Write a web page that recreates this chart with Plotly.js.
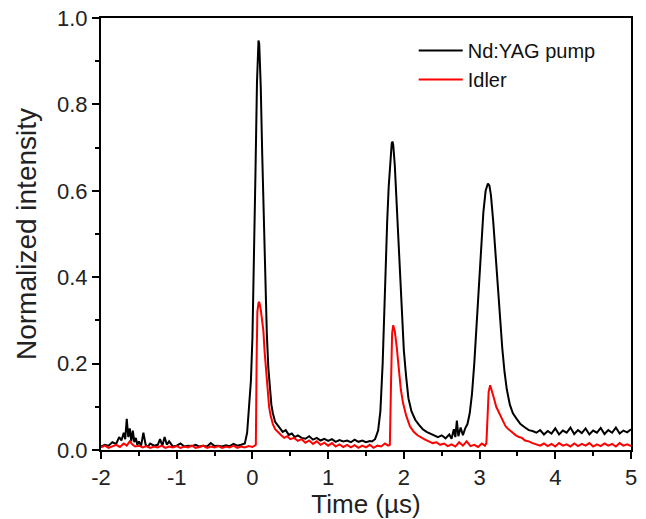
<!DOCTYPE html>
<html>
<head>
<meta charset="utf-8">
<script src="https://cdn.plot.ly/plotly-3.0.1.min.js"></script>
<style>html,body{margin:0;padding:0;background:#fff;}#chart{width:646px;height:519px;}</style>
</head>
<body>
<div id="chart"></div>
<script>
// Nd:YAG pump (black) — time in µs, normalized intensity
const pumpT = [
-2.00,-1.95,-1.90,-1.85,-1.80,-1.76,-1.73,-1.70,-1.68,-1.66,-1.64,-1.62,-1.60,-1.58,-1.56,-1.54,-1.52,-1.50,-1.47,-1.44,-1.41,-1.38,-1.35,-1.30,-1.25,-1.22,-1.19,-1.16,-1.13,-1.10,-1.05,-1.00,-0.95,-0.90,-0.85,-0.80,-0.75,-0.70,-0.65,-0.60,-0.55,-0.50,-0.45,-0.40,-0.35,-0.30,-0.25,-0.20,-0.15,
-0.10,-0.07,-0.05,-0.02,0.00,0.02,0.04,0.06,0.08,0.09,0.11,0.13,0.15,0.17,0.19,0.21,0.23,0.25,0.27,0.30,0.33,0.36,0.40,0.44,0.48,0.52,0.56,0.60,0.65,0.70,0.75,0.80,0.85,0.90,0.95,1.00,1.05,1.10,1.15,1.20,1.25,1.30,1.35,1.40,1.45,1.50,1.55,1.58,
1.62,1.66,1.69,1.72,1.74,1.76,1.78,1.80,1.82,1.84,1.85,1.86,1.88,1.90,1.92,1.94,1.96,1.98,2.00,2.03,2.06,2.10,2.15,2.20,2.25,2.30,2.35,2.40,2.45,2.50,2.55,2.60,2.63,2.66,2.68,2.70,2.72,2.75,2.78,2.81,2.84,
2.87,2.90,2.93,2.96,2.99,3.02,3.05,3.08,3.11,3.13,3.15,3.18,3.21,3.24,3.27,3.30,3.33,3.36,3.40,3.44,3.49,3.54,3.60,3.65,3.70,3.75,3.80,3.85,3.90,3.95,4.00,4.05,4.10,4.15,4.20,4.25,4.30,4.35,4.40,4.45,4.50,4.55,4.60,4.65,4.70,4.75,4.80,4.85,4.90,4.95,5.00
];
const pumpV = [
0.008,0.012,0.010,0.018,0.014,0.030,0.022,0.040,0.025,0.072,0.030,0.050,0.020,0.045,0.018,0.028,0.012,0.020,0.010,0.040,0.012,0.008,0.015,0.010,0.012,0.025,0.010,0.030,0.012,0.020,0.008,0.010,0.015,0.008,0.010,0.009,0.012,0.008,0.010,0.008,0.016,0.009,0.010,0.008,0.011,0.009,0.014,0.010,0.012,
0.015,0.040,0.080,0.160,0.260,0.420,0.640,0.850,0.948,0.940,0.840,0.680,0.520,0.380,0.270,0.190,0.140,0.105,0.085,0.065,0.058,0.052,0.042,0.046,0.035,0.038,0.030,0.034,0.028,0.026,0.032,0.024,0.028,0.022,0.026,0.021,0.025,0.019,0.023,0.020,0.022,0.018,0.024,0.019,0.022,0.018,0.021,0.020,
0.025,0.045,0.090,0.200,0.330,0.430,0.530,0.610,0.670,0.710,0.714,0.705,0.660,0.590,0.520,0.440,0.360,0.290,0.230,0.170,0.120,0.090,0.070,0.058,0.048,0.042,0.038,0.034,0.030,0.034,0.027,0.036,0.026,0.048,0.030,0.068,0.032,0.052,0.034,0.050,0.060,
0.085,0.130,0.200,0.290,0.390,0.480,0.550,0.600,0.617,0.612,0.590,0.530,0.450,0.370,0.300,0.235,0.180,0.140,0.105,0.085,0.072,0.060,0.052,0.046,0.044,0.040,0.046,0.036,0.044,0.038,0.050,0.036,0.045,0.040,0.052,0.037,0.046,0.039,0.050,0.036,0.045,0.040,0.051,0.037,0.046,0.040,0.052,0.038,0.045,0.041,0.048
];

// Idler (red)
const idlerT = [
-2.00,-1.95,-1.90,-1.85,-1.80,-1.75,-1.70,-1.66,-1.62,-1.58,-1.55,-1.50,-1.45,-1.40,-1.35,-1.30,-1.25,-1.20,-1.15,-1.10,-1.05,-1.00,-0.95,-0.90,-0.85,-0.80,-0.75,-0.70,-0.65,-0.60,-0.55,-0.50,-0.45,-0.40,-0.35,-0.30,-0.25,-0.20,-0.15,-0.10,-0.05,0.00,0.03,0.045,
0.055,0.065,0.08,0.09,0.11,0.13,0.145,0.16,0.18,0.20,0.22,0.24,0.27,0.30,0.34,0.38,0.42,0.46,0.50,0.55,0.60,0.65,0.70,0.75,0.80,0.85,0.90,0.95,1.00,1.05,1.10,1.15,1.20,1.25,1.30,1.35,1.40,1.45,1.50,1.55,1.60,1.65,1.70,1.75,1.79,1.815,
1.83,1.845,1.86,1.88,1.905,1.93,1.96,1.99,2.03,2.08,2.13,2.18,2.23,2.28,2.33,2.38,2.43,2.48,2.53,2.58,2.63,2.68,2.73,2.78,2.83,2.88,2.93,2.98,3.03,3.07,3.09,
3.105,3.12,3.14,3.16,3.19,3.22,3.25,3.28,3.31,3.34,3.37,3.40,3.44,3.48,3.52,3.56,3.60,3.65,3.70,3.75,3.80,3.85,3.90,3.95,4.00,4.05,4.10,4.15,4.20,4.25,4.30,4.35,4.40,4.45,4.50,4.55,4.60,4.65,4.70,4.75,4.80,4.85,4.90,4.95,5.00
];
const idlerV = [
0.006,0.010,0.005,0.008,0.012,0.007,0.015,0.010,0.020,0.012,0.008,0.010,0.006,0.009,0.005,0.008,0.006,0.010,0.005,0.008,0.006,0.009,0.005,0.008,0.006,0.010,0.005,0.007,0.010,0.005,0.008,0.006,0.009,0.005,0.008,0.006,0.010,0.005,0.008,0.006,0.009,0.007,0.010,0.012,
0.200,0.320,0.340,0.343,0.325,0.295,0.275,0.230,0.180,0.135,0.100,0.080,0.060,0.048,0.040,0.034,0.028,0.032,0.025,0.028,0.021,0.025,0.017,0.022,0.014,0.020,0.012,0.017,0.010,0.016,0.008,0.013,0.007,0.012,0.006,0.011,0.005,0.010,0.006,0.012,0.005,0.010,0.008,0.015,0.010,0.012,
0.150,0.270,0.289,0.275,0.240,0.190,0.140,0.108,0.080,0.055,0.042,0.034,0.028,0.024,0.020,0.016,0.018,0.012,0.015,0.009,0.013,0.008,0.018,0.010,0.020,0.009,0.012,0.007,0.015,0.010,0.016,
0.090,0.135,0.150,0.140,0.120,0.100,0.088,0.078,0.066,0.056,0.050,0.045,0.040,0.034,0.030,0.028,0.022,0.020,0.016,0.013,0.010,0.015,0.009,0.014,0.008,0.016,0.010,0.013,0.008,0.015,0.009,0.014,0.010,0.016,0.008,0.013,0.009,0.015,0.010,0.014,0.008,0.016,0.010,0.013,0.009,0.015
];

const xTickVals = [-2,-1,0,1,2,3,4,5];
const xTickText = ['-2','-1','0','1','2','3','4','5'];
const yTickVals = [0.0,0.2,0.4,0.6,0.8,1.0];
const yTickText = ['0.0','0.2','0.4','0.6','0.8','1.0'];

const traces = [
  {x: pumpT, y: pumpV, type:'scatter', mode:'lines', name:'Nd:YAG pump',
   line:{color:'#000000', width:2}},
  {x: idlerT, y: idlerV, type:'scatter', mode:'lines', name:'Idler',
   line:{color:'#ff0000', width:2}}
];

const font = "'Liberation Sans', Arial, sans-serif";
const layout = {
  width:646, height:519,
  margin:{l:101, r:15, t:18, b:69},
  paper_bgcolor:'#ffffff', plot_bgcolor:'#ffffff',
  font:{family:font, color:'#222222', size:20},
  showlegend:true,
  legend:{x:0.59, y:0.97, xanchor:'left', yanchor:'top', bgcolor:'rgba(0,0,0,0)',
          font:{size:20, family:font, color:'#111'}, itemwidth:44},
  xaxis:{range:[-2,5], tickvals:xTickVals, ticktext:xTickText, ticks:'outside', ticklen:7, tickwidth:2, tickcolor:'#000',
         showline:true, linecolor:'#000', linewidth:2, mirror:true, showgrid:false, zeroline:false,
         tickfont:{size:22, family:font, color:'#222'},
         minor:{dtick:0.5, ticks:'outside', ticklen:4, tickwidth:2, tickcolor:'#000', showgrid:false},
         title:{text:'Time (µs)', font:{size:26, family:font, color:'#222'}, standoff:2}},
  yaxis:{range:[0,1.0], tickvals:yTickVals, ticktext:yTickText, ticks:'outside', ticklen:7, tickwidth:2, tickcolor:'#000',
         showline:true, linecolor:'#000', linewidth:2, mirror:true, showgrid:false, zeroline:false,
         tickfont:{size:22, family:font, color:'#222'},
         minor:{dtick:0.1, ticks:'outside', ticklen:4, tickwidth:2, tickcolor:'#000', showgrid:false},
         title:{text:'Normalized intensity', font:{size:28, family:font, color:'#222'}, standoff:12}}
};

Plotly.newPlot('chart', traces, layout, {staticPlot:true, displayModeBar:false});
</script>
</body>
</html>
